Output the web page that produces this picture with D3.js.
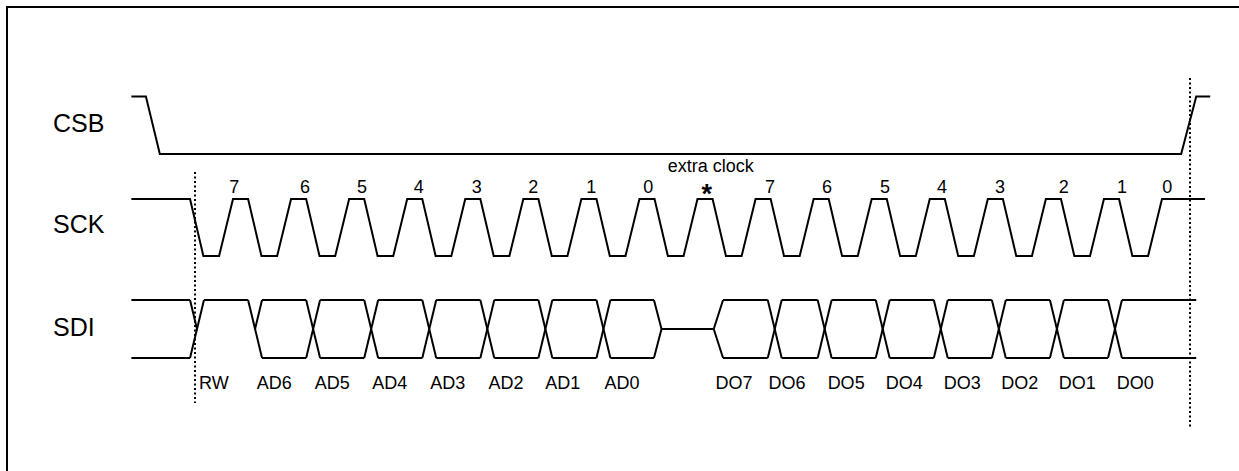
<!DOCTYPE html>
<html>
<head>
<meta charset="utf-8">
<script src="https://cdn.jsdelivr.net/npm/d3@7"></script>
<style>
  html, body { margin: 0; padding: 0; background: #fff; overflow: hidden; }
  svg { display: block; }
  text { font-family: "Liberation Sans", Arial, sans-serif; fill: #000; }
</style>
</head>
<body>
<svg id="chart" width="1239" height="471"></svg>
<script>
// ---------- data (time in SCK clock periods; 0 = top of first clock pulse) ----------
const signalNames = ["CSB", "SCK", "SDI"];

// SCK: pulse labels and where each label sits in time
const clockLabels = ["7","6","5","4","3","2","1","0","*","7","6","5","4","3","2","1","0"];
const clockLabelAt = [0.02, 1.24, 2.22, 3.20, 4.20, 5.17, 6.17, 7.15, 8.16, 9.25, 10.23, 11.23, 12.21, 13.21, 14.31, 15.31, 16.09];
const clockStart = -1.75, clockEnd = 16.74;
// phase of one clock period: top ends, falling edge ends, bottom ends (rises to next top at 1)
const clockPhase = [0.26, 0.49, 0.76];
const extraClockText = "extra clock";
const extraClockAt = 8.23;

// CSB: [time, level]  (1 = high, 0 = low)
const csbTimes  = [-1.75, -1.50, -1.26, 16.33, 16.59, 16.83];
const csbLevels = [1, 1, 0, 0, 1, 1];

// SDI: states and the edges between them
const sdiStates = ["X","RW","AD6","AD5","AD4","AD3","AD2","AD1","AD0","Z","DO7","DO6","DO5","DO4","DO3","DO2","DO1","DO0"];
const sdiEdges  = [-1.75, -0.74, 0.26, 1.26, 2.26, 3.26, 4.26, 5.26, 6.26, 7.25, 8.28, 9.21, 10.07, 11.07, 12.07, 13.07, 14.07, 15.07, 16.59];
const sdiBitLabels = ["RW","AD6","AD5","AD4","AD3","AD2","AD1","AD0","DO7","DO6","DO5","DO4","DO3","DO2","DO1","DO0"];
const sdiBitLabelAt = [-0.33, 0.71, 1.71, 2.70, 3.70, 4.70, 5.68, 6.70, 8.63, 9.54, 10.56, 11.56, 12.56, 13.55, 14.54, 15.54];

// dotted markers (start of frame / end of frame)
const markerTimes = [-0.66, 16.48];

// ---------- drawing ----------
const svg = d3.select("#chart");
const W = 1239, H = 471;

const x = d3.scaleLinear().domain([0, 16]).range([233, 1162]);

// vertical scales per signal (level -> y)
const yCsb = d3.scaleLinear().domain([0, 1]).range([154, 96.5]);
const ySck = d3.scaleLinear().domain([0, 1]).range([256, 199]);
const ySdi = d3.scaleLinear().domain([0, 1]).range([358, 300]);

const lineGen = d3.line().x(d => x(d[0])).y(d => d[1]);

const stroke = { fill: "none", stroke: "#000", "stroke-width": 2, "stroke-linejoin": "miter", "stroke-linecap": "butt" };
function drawPath(pts, g) {
  const p = (g || svg).append("path").attr("d", lineGen(pts));
  Object.entries(stroke).forEach(([k, v]) => p.attr(k, v));
  return p;
}

// frame (only top and left edges are inside the picture)
svg.append("path").attr("d", `M7,${H} L7,7 L${W},7`)
  .attr("fill", "none").attr("stroke", "#000").attr("stroke-width", 2);

// signal names
const nameY = { CSB: 132, SCK: 233, SDI: 336 };
svg.selectAll("text.sig").data(signalNames).join("text")
  .attr("class", "sig")
  .attr("x", 53).attr("y", d => nameY[d])
  .attr("font-size", 25)
  .text(d => d);

// CSB
drawPath(csbTimes.map((t, i) => [t, yCsb(csbLevels[i])]));

// SCK
const sckPts = [[clockStart, ySck(1)]];
sckPts.push([-1 + clockPhase[0], ySck(1)], [-1 + clockPhase[1], ySck(0)], [-1 + clockPhase[2], ySck(0)]);
for (let i = 0; i < clockLabels.length; i++) {
  sckPts.push([i, ySck(1)]);
  if (i < clockLabels.length - 1) {
    sckPts.push([i + clockPhase[0], ySck(1)], [i + clockPhase[1], ySck(0)], [i + clockPhase[2], ySck(0)]);
  }
}
sckPts.push([clockEnd, ySck(1)]);
drawPath(sckPts);

// SCK labels
svg.selectAll("text.clk").data(clockLabels).join("text")
  .attr("class", "clk")
  .attr("x", (d, i) => x(clockLabelAt[i]))
  .attr("y", d => d === "*" ? 203 : 193)
  .attr("text-anchor", "middle")
  .attr("font-size", d => d === "*" ? 27 : 18)
  .attr("font-weight", d => d === "*" ? "bold" : "normal")
  .text(d => d);

svg.append("text")
  .attr("x", x(extraClockAt)).attr("y", 172)
  .attr("text-anchor", "middle").attr("font-size", 18)
  .text(extraClockText);

// SDI
function kind(s) {
  if (s === "X") return "both";
  if (s === "RW") return "high";
  if (s === "Z") return "mid";
  return "bus";
}
function levels(k) {
  if (k === "high") return [1];
  if (k === "mid") return [0.5];
  return [1, 0];
}
const busW = 0.24, zW = 0.13;
const sdiG = svg.append("g");
// transition widths
const trW = [];
for (let i = 1; i < sdiStates.length; i++) {
  const a = kind(sdiStates[i - 1]), b = kind(sdiStates[i]);
  trW.push(a === "mid" || b === "mid" ? (b === "mid" ? zW : 0.16) : busW);
}
// steady segments
sdiStates.forEach((s, i) => {
  const t0 = i === 0 ? sdiEdges[0] : sdiEdges[i] + trW[i - 1];
  const t1 = sdiEdges[i + 1];
  levels(kind(s)).forEach(l => drawPath([[t0, ySdi(l)], [t1, ySdi(l)]], sdiG));
});
// transitions
for (let i = 1; i < sdiStates.length; i++) {
  const a = kind(sdiStates[i - 1]), b = kind(sdiStates[i]);
  const t = sdiEdges[i], w = trW[i - 1];
  const mid = [t + w / 2, ySdi(0.5)];
  if (a === "both" && b === "high") {
    drawPath([[t, ySdi(0)], [t + w, ySdi(1)]], sdiG);
    drawPath([[t, ySdi(1)], mid], sdiG);
  } else if (a === "high" && b === "bus") {
    drawPath([[t, ySdi(1)], [t + w, ySdi(0)]], sdiG);
    drawPath([mid, [t + w, ySdi(1)]], sdiG);
  } else if (a === "bus" && b === "mid") {
    drawPath([[t, ySdi(1)], [t + w, ySdi(0.5)], [t, ySdi(0)]], sdiG);
  } else if (a === "mid" && b === "bus") {
    drawPath([[t + w, ySdi(1)], [t, ySdi(0.5)], [t + w, ySdi(0)]], sdiG);
  } else {
    drawPath([[t, ySdi(1)], [t + w, ySdi(0)]], sdiG);
    drawPath([[t, ySdi(0)], [t + w, ySdi(1)]], sdiG);
  }
}

// SDI bit labels
svg.selectAll("text.bit").data(sdiBitLabels).join("text")
  .attr("class", "bit")
  .attr("x", (d, i) => x(sdiBitLabelAt[i]))
  .attr("y", 389)
  .attr("text-anchor", "middle")
  .attr("font-size", 18)
  .text(d => d);

// dotted markers
const markerSpan = [[172, 403], [78, 428]];
markerTimes.forEach((t, i) => {
  svg.append("line")
    .attr("x1", Math.round(x(t))).attr("x2", Math.round(x(t)))
    .attr("y1", markerSpan[i][0]).attr("y2", markerSpan[i][1])
    .attr("stroke", "#000").attr("stroke-width", 2)
    .attr("stroke-dasharray", "2 2.5");
});
</script>
</body>
</html>
